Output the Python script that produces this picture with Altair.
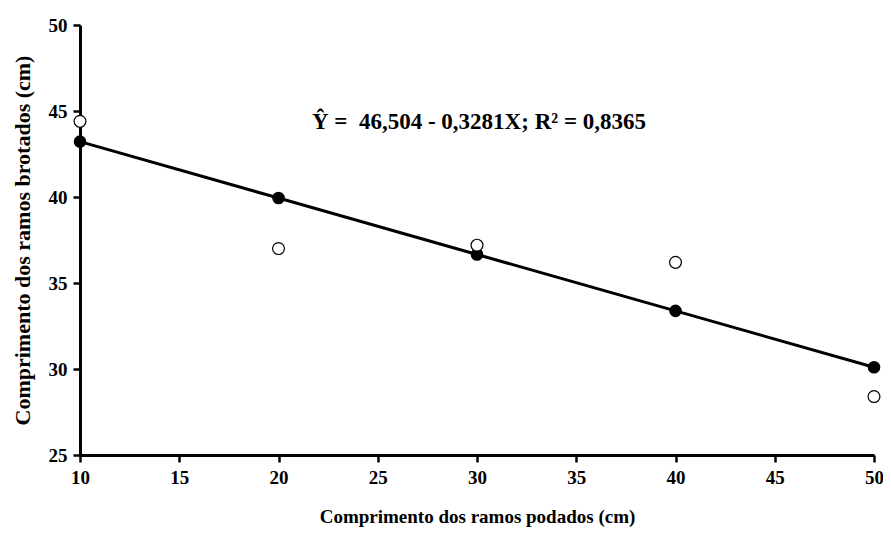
import altair as alt
import pandas as pd

# Data
x_vals = [10, 20, 30, 40, 50]
observed = [44.4, 37.0, 37.2, 36.2, 28.4]
fitted = [43.22, 39.94, 36.66, 33.38, 30.10]
equation = "Ŷ =\u00a0 46,504 - 0,3281X; R² = 0,8365"

df = pd.DataFrame({"x": x_vals, "obs": observed, "fit": fitted})
ann = pd.DataFrame({"x": [30.1], "y": [44.35], "label": [equation]})

FONT = "Liberation Serif"

xs = alt.Scale(domain=[10, 50], nice=False, zero=False)
ys = alt.Scale(domain=[25, 50], nice=False, zero=False)

x_axis = alt.Axis(
    title="Comprimento dos ramos podados (cm)",
    values=[10, 15, 20, 25, 30, 35, 40, 45, 50],
    titlePadding=20,
    titleFontSize=19,
)
y_axis = alt.Axis(
    title="Comprimento dos ramos brotados (cm)",
    values=[25, 30, 35, 40, 45, 50],
    titlePadding=14,
    titleFontSize=22,
)

base = alt.Chart(df)

line = base.mark_line(color="black", strokeWidth=3, clip=False).encode(
    x=alt.X("x:Q", scale=xs, axis=x_axis),
    y=alt.Y("fit:Q", scale=ys, axis=y_axis),
)

filled = base.mark_point(
    filled=True, color="black", size=160, opacity=1, clip=False
).encode(x=alt.X("x:Q", scale=xs), y=alt.Y("fit:Q", scale=ys))

hollow = base.mark_point(
    filled=False, color="black", fill="white", fillOpacity=1,
    size=140, strokeWidth=1.2, opacity=1, clip=False
).encode(x=alt.X("x:Q", scale=xs), y=alt.Y("obs:Q", scale=ys))

text = alt.Chart(ann).mark_text(
    font=FONT, fontSize=23, fontWeight="bold", color="black", align="center", baseline="middle"
).encode(x=alt.X("x:Q", scale=xs), y=alt.Y("y:Q", scale=ys), text="label:N")

chart = (
    alt.layer(line, filled, hollow, text)
    .properties(
        width=794,
        height=430,
        autosize=alt.AutoSizeParams(type="none"),
        padding={"left": 72, "top": 17, "right": 9, "bottom": 75},
        background="white",
    )
    .configure_view(stroke=None)
    .configure_axis(
        grid=False,
        domainColor="black",
        domainWidth=3,
        tickColor="black",
        tickWidth=2.5,
        tickSize=7,
        labelFont=FONT,
        labelFontSize=19,
        labelFontWeight="bold",
        labelColor="black",
        labelPadding=6,
        labelFlush=False,
        titleFont=FONT,
        titleFontWeight="bold",
        titleColor="black",
        labelOverlap=False,
    )
)

chart.save("out.html", embed_options={"renderer": "svg", "actions": False})
